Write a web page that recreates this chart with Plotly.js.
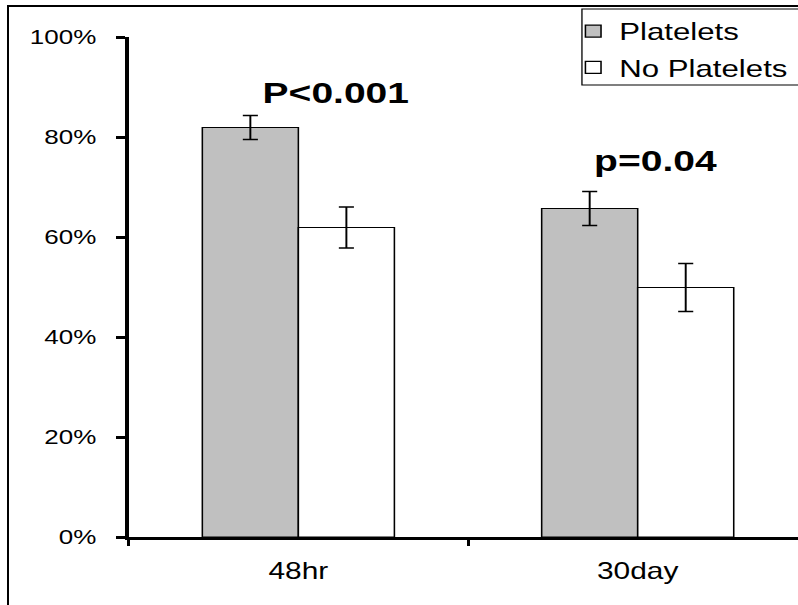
<!DOCTYPE html>
<html>
<head>
<meta charset="utf-8">
<script src="https://cdn.plot.ly/plotly-3.0.1.min.js"></script>
<style>
  html, body { margin: 0; padding: 0; background: #fff; overflow: hidden; }
  #wrap { position: relative; width: 798px; height: 605px; overflow: hidden; }
  #chart { position: absolute; left: 0; top: 0; width: 614px; height: 605px; transform: scaleX(1.3); transform-origin: 0 0; }
  #frame { position: absolute; left: 7px; top: 5px; width: 820px; height: 620px; border-left: 2px solid #000; border-top: 2px solid #000; pointer-events: none; }
</style>
</head>
<body>
<div id="wrap">
  <div id="chart"></div>
  <div id="frame"></div>
</div>
<script>
const categories = ["48hr", "30day"];
const seriesNames = ["Platelets", "No Platelets"];
const platelets = [81.9, 65.7];
const plateletsErr = [2.4, 3.4];
const noPlatelets = [61.9, 49.9];
const noPlateletsErr = [4.1, 4.8];
const yTickVals = [0, 20, 40, 60, 80, 100];
const yTickText = ["0%", "20%", "40%", "60%", "80%", "100%"];
const pLabels = ["P<0.001", "p=0.04"];
const pLabelX = [0.11, 1.053];
const pLabelY = [89, 75.4];

const S = 1.3;
const errStyle = { type: 'data', visible: true, color: '#000', thickness: 1.5, width: 5.8 };

const traces = [
  {
    type: 'bar', name: seriesNames[0], x: categories, y: platelets,
    marker: { color: '#c0c0c0', line: { color: '#000', width: 1.2 } },
    error_y: Object.assign({ array: plateletsErr }, errStyle),
    legendgroup: 'a'
  },
  {
    type: 'bar', name: seriesNames[1], x: categories, y: noPlatelets,
    marker: { color: '#ffffff', line: { color: '#000', width: 1.2 } },
    error_y: Object.assign({ array: noPlateletsErr }, errStyle),
    legendgroup: 'b'
  }
];

const annotations = pLabels.map((t, i) => ({
  text: t, x: pLabelX[i], y: pLabelY[i], xref: 'x', yref: 'y',
  showarrow: false, xanchor: 'center', yanchor: 'middle',
  font: { family: 'Liberation Sans, Arial', size: 30, color: '#000', weight: 'bold' }
}));

const layout = {
  width: 614, height: 605,
  margin: { l: 129 / S, r: 0, t: 37, b: 68, autoexpand: false },
  paper_bgcolor: '#fff', plot_bgcolor: '#fff',
  barmode: 'group', bargap: 0.434, bargroupgap: 0,
  showlegend: true,
  legend: {
    x: 0.655, y: 1.056, xanchor: 'left', yanchor: 'top',
    borderwidth: 0, bgcolor: 'rgba(0,0,0,0)',
    font: { family: 'Liberation Sans, Arial', size: 24, color: '#000' },
    traceorder: 'grouped', tracegroupgap: 2
  },
  shapes: [{
    type: 'rect', xref: 'paper', yref: 'paper',
    x0: 0.677, x1: 1.05, y0: 0.904, y1: 1.056,
    line: { color: '#000', width: 1 }, fillcolor: 'rgba(0,0,0,0)', layer: 'above'
  }],
  xaxis: {
    type: 'category', range: [-0.5, 1.473],
    showline: true, linecolor: '#000', linewidth: 3,
    ticks: 'outside', tickson: 'boundaries', ticklen: 6, tickwidth: 2.3, tickcolor: '#000',
    showgrid: false, zeroline: false,
    tickfont: { family: 'Liberation Sans, Arial', size: 23, color: '#000' },
    ticklabelstandoff: 11
  },
  yaxis: {
    range: [0, 100], tickmode: 'array', tickvals: yTickVals, ticktext: yTickText,
    showline: true, linecolor: '#000', linewidth: 3,
    ticks: 'outside', ticklen: 6.9, tickwidth: 3, tickcolor: '#000',
    showgrid: false, zeroline: false,
    tickfont: { family: 'Liberation Sans, Arial', size: 20, color: '#000' },
    ticklabelstandoff: 11
  },
  annotations: annotations
};

Plotly.newPlot('chart', traces, layout, { staticPlot: true, displayModeBar: false });
</script>
</body>
</html>
